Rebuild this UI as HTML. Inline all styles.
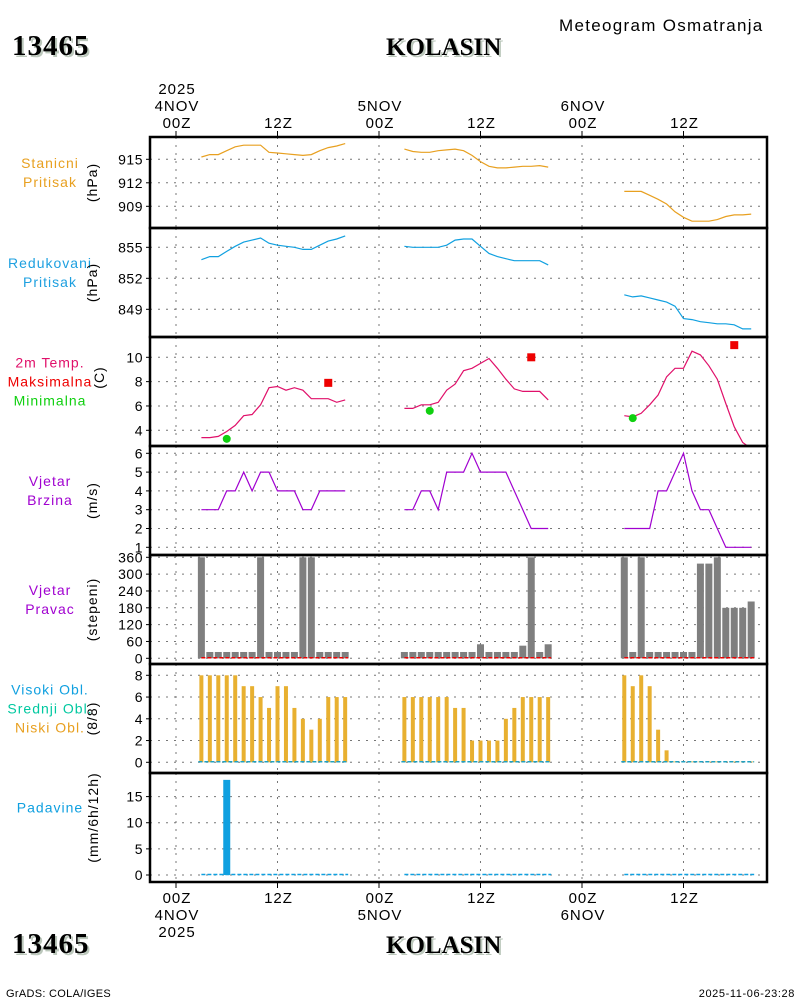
<!DOCTYPE html>
<html><head><meta charset="utf-8"><style>
html,body{margin:0;padding:0;background:#fff;}
svg{display:block;font-family:"Liberation Sans",sans-serif;}
</style></head><body>
<svg id="chart" width="800" height="1000" viewBox="0 0 800 1000">
<g>
<text x="559" y="31" font-size="17" letter-spacing="1.3">Meteogram Osmatranja</text>
<text x="14" y="57" font-size="29" font-weight="bold" font-family="Liberation Serif,serif" fill="#bcc8bc" letter-spacing="1">13465</text>
<text x="12" y="55" font-size="29" font-weight="bold" font-family="Liberation Serif,serif" letter-spacing="1">13465</text>
<text x="388" y="57" font-size="25" font-weight="bold" font-family="Liberation Serif,serif" fill="#bcc8bc">KOLASIN</text>
<text x="386" y="55" font-size="25" font-weight="bold" font-family="Liberation Serif,serif">KOLASIN</text>
<text x="14" y="955" font-size="29" font-weight="bold" font-family="Liberation Serif,serif" fill="#bcc8bc" letter-spacing="1">13465</text>
<text x="12" y="953" font-size="29" font-weight="bold" font-family="Liberation Serif,serif" letter-spacing="1">13465</text>
<text x="388" y="955" font-size="25" font-weight="bold" font-family="Liberation Serif,serif" fill="#bcc8bc">KOLASIN</text>
<text x="386" y="953" font-size="25" font-weight="bold" font-family="Liberation Serif,serif">KOLASIN</text>
<text x="6" y="997" font-size="11" letter-spacing="0.3">GrADS: COLA/IGES</text>
<text x="795" y="997" font-size="11" letter-spacing="0.6" text-anchor="end">2025-11-06-23:28</text>
</g>
</svg>
<script>
// ---- data (hours since 4NOV 00Z) ----
const seg1Hours=[3,4,5,6,7,8,9,10,11,12,13,14,15,16,17,18,19,20];
const seg2Hours=[27,28,29,30,31,32,33,34,35,36,37,38,39,40,41,42,43,44];
const seg3Hours=[53,54,55,56,57,58,59,60,61,62,63,64,65,66,67,68];
const timeTickHours=[0,12,24,36,48,60];
const timeTickLabels=["00Z","12Z","00Z","12Z","00Z","12Z"];
const dateLabels=[["2025","4NOV"],[],["5NOV"],[],["6NOV"],[]];

const stnP1=[915.3,915.6,915.6,916.1,916.6,916.8,916.8,916.8,915.9,915.8,915.7,915.6,915.5,915.6,916.1,916.5,916.7,917.0];
const stnP2=[916.3,916.0,915.9,915.9,916.1,916.2,916.3,916.1,915.5,914.7,914.1,913.9,913.9,914.0,914.1,914.1,914.2,914.0];
const stnP3=[910.9,910.9,910.9,910.4,909.9,909.3,908.3,907.6,907.1,907.1,907.1,907.3,907.7,907.9,907.9,908.0];
const redP1=[853.8,854.1,854.1,854.6,855.1,855.5,855.7,855.9,855.4,855.2,855.1,855.0,854.8,854.8,855.2,855.6,855.8,856.1];
const redP2=[855.1,855.0,855.0,855.0,855.0,855.2,855.7,855.8,855.8,855.1,854.4,854.1,853.9,853.7,853.7,853.7,853.7,853.3];
const redP3=[850.4,850.2,850.3,850.1,849.9,849.7,849.3,848.1,848.0,847.8,847.7,847.6,847.6,847.5,847.1,847.1];
const temp1=[3.4,3.4,3.5,3.9,4.4,5.2,5.3,6.1,7.5,7.6,7.3,7.5,7.3,6.6,6.6,6.6,6.3,6.5];
const temp2=[5.8,5.8,6.1,6.1,6.3,7.3,7.8,8.9,9.1,9.5,9.9,9.1,8.2,7.4,7.2,7.2,7.2,6.5];
const temp3=[5.2,5.1,5.4,6.1,6.9,8.4,9.1,9.1,10.5,10.2,9.3,8.2,6.2,4.3,3.0,2.5];
const tmaxHours=[18,42,66];
const tmaxValues=[7.9,10.0,11.0];
const tminHours=[6,30,54];
const tminValues=[3.3,5.6,5.0];
const wind1=[3,3,3,4,4,5,4,5,5,4,4,4,3,3,4,4,4,4];
const wind2=[3,3,4,4,3,5,5,5,6,5,5,5,5,4,3,2,2,2];
const wind3=[2,2,2,2,4,4,5,6,4,3,3,2,1,1,1,1];
const dir1=[360,22.5,22.5,22.5,22.5,22.5,22.5,360,22.5,22.5,22.5,22.5,360,360,22.5,22.5,22.5,22.5];
const dir2=[22.5,22.5,22.5,22.5,22.5,22.5,22.5,22.5,22.5,50,22.5,22.5,22.5,22.5,45,360,22.5,50];
const dir3=[360,22.5,360,22.5,22.5,22.5,22.5,22.5,22.5,337.5,337.5,360,180,180,180,202.5];
const cloud1=[8,8,8,8,8,7,7,6,5,7,7,5,4,3,4,6,6,6];
const cloud2=[6,6,6,6,6,6,5,5,2,2,2,2,4,5,6,6,6,6];
const cloud3=[8,7,8,7,3,1.1,0,0,0,0,0,0,0,0,0,0];
const precipHours=[6];
const precipValues=[18.2];

// ---- layout ----
const NS="http://www.w3.org/2000/svg";
const svg=document.getElementById('chart');
const X0=150,X1=767;
const xs=h=>176+h*8.4583;
function mk(tag,attrs,parent){const e=document.createElementNS(NS,tag);for(const k in attrs)e.setAttribute(k,attrs[k]);(parent||svg).appendChild(e);return e;}
function lin(v0,y0,v1,y1){return v=>y0+(v-v0)*(y1-y0)/(v1-v0);}

const panels=[
 {top:137,bot:228,ys:lin(915,159.3,909,206.3),ticks:[915,912,909],labels:[["Stanicni","#e8a020"],["Pritisak","#e8a020"]],unit:"(hPa)"},
 {top:228,bot:337,ys:lin(855,247.3,849,309.3),ticks:[855,852,849],labels:[["Redukovani","#1ea0e0"],["Pritisak","#1ea0e0"]],unit:"(hPa)"},
 {top:337,bot:446,ys:lin(10,357.3,4,430.3),ticks:[10,8,6,4],labels:[["2m Temp.","#e0106a"],["Maksimalna","#ee0000"],["Minimalna","#10d010"]],unit:"(C)"},
 {top:446,bot:555,ys:lin(6,453.3,1,547.3),ticks:[6,5,4,3,2,1],labels:[["Vjetar","#a000d0"],["Brzina","#a000d0"]],unit:"(m/s)"},
 {top:555,bot:664,ys:lin(360,557.3,0,658.3),ticks:[360,300,240,180,120,60,0],labels:[["Vjetar","#a000d0"],["Pravac","#a000d0"]],unit:"(stepeni)"},
 {top:664,bot:773,ys:lin(8,675.3,0,762.3),ticks:[8,6,4,2,0],labels:[["Visoki Obl.","#10a0e0"],["Srednji Obl.","#00c8a0"],["Niski Obl.","#e8a020"]],unit:"(8/8)"},
 {top:773,bot:882,ys:lin(15,796.6,0,875),ticks:[15,10,5,0],labels:[["Padavine","#10a0e0"]],unit:"(mm/6h/12h)"}
];
const names=["station-pressure","reduced-pressure","temperature","wind-speed","wind-direction","cloud-cover","precipitation"];

panels.forEach((p,i)=>{
 const g=mk('g',{});
 
 
 const cp=mk('clipPath',{id:'cp'+i},g);mk('rect',{x:X0,y:p.top,width:X1-X0,height:p.bot-p.top},cp);
 p.g=g;
 timeTickHours.forEach(h=>{const l=mk('line',{x1:xs(h),x2:xs(h),y1:p.top,y2:p.bot,stroke:'#777','stroke-dasharray':'2 6'},g);
  });
 p.ticks.forEach(t=>{const y=p.ys(t);
  const l=mk('line',{x1:X0,x2:X1,y1:y,y2:y,stroke:'#777','stroke-dasharray':'2 6'},g);
  
  mk('line',{x1:146,x2:X0,y1:y,y2:y,stroke:'#000'},g);
  const tx=mk('text',{x:143,y:y+5,'font-size':14,'letter-spacing':0.5,'text-anchor':'end'},g);tx.textContent=t;
  });
 const n=p.labels.length,mid=(p.top+p.bot)/2-((i===6)?20:10);
 p.labels.forEach((lb,k)=>{const tx=mk('text',{x:50,y:mid+(k-(n-1)/2)*19+5,'font-size':14,'letter-spacing':1,'text-anchor':'middle',fill:lb[1]},g);tx.textContent=lb[0];
  });
 const ux=i===6?98:(i===2?104:97);
 const uy=(p.top+p.bot)/2-(i===6?10:(i===2?14:0));
 const ut=mk('text',{x:ux,y:uy,'font-size':14,'letter-spacing':1,'text-anchor':'middle',transform:`rotate(-90 ${ux} ${uy})`},g);
 ut.textContent=p.unit;
});

function line(p,i,hours,vals,color,name){
 const pts=hours.slice(0,vals.length).map((h,k)=>xs(h).toFixed(1)+','+p.ys(vals[k]).toFixed(1)).join(' ');
 const pl=mk('polyline',{points:pts,fill:'none',stroke:color,'stroke-width':1.2,'clip-path':`url(#cp${i})`},p.g);
 
}
const P=panels;
line(P[0],0,seg1Hours,stnP1,'#e8a020','station-pressure-line');
line(P[0],0,seg2Hours,stnP2,'#e8a020','station-pressure-line');
line(P[0],0,seg3Hours,stnP3,'#e8a020','station-pressure-line');
line(P[1],1,seg1Hours,redP1,'#10a0e0','reduced-pressure-line');
line(P[1],1,seg2Hours,redP2,'#10a0e0','reduced-pressure-line');
line(P[1],1,seg3Hours,redP3,'#10a0e0','reduced-pressure-line');
line(P[2],2,seg1Hours,temp1,'#e0106a','temperature-line');
line(P[2],2,seg2Hours,temp2,'#e0106a','temperature-line');
line(P[2],2,seg3Hours,temp3,'#e0106a','temperature-line');
tmaxHours.forEach((h,k)=>{const r=mk('rect',{x:xs(h)-4,y:P[2].ys(tmaxValues[k])-4,width:8,height:8,fill:'#ee0000'},P[2].g);
 });
tminHours.forEach((h,k)=>{const c=mk('circle',{cx:xs(h),cy:P[2].ys(tminValues[k]),r:4,fill:'#10d010'},P[2].g);
 });
line(P[3],3,seg1Hours,wind1,'#a000d0','wind-speed-line');
line(P[3],3,seg2Hours,wind2,'#a000d0','wind-speed-line');
line(P[3],3,seg3Hours,wind3,'#a000d0','wind-speed-line');

function bars(p,i,hours,vals,color,w,name){
 vals.forEach((v,k)=>{const y0=p.ys(0),y=p.ys(v);
  const r=mk('rect',{x:xs(hours[k])-w/2,y:Math.min(y,y0-0.8),width:w,height:Math.max(y0-y,0.8),fill:color,'clip-path':`url(#cp${i})`},p.g);
  });
}
function zeroDash(p,hours,color,name){
 const y=p.ys(0)-0.5;
 const l=mk('line',{x1:xs(hours[0])-(name.startsWith('cloud')?3:0),x2:xs(hours[hours.length-1])+3,y1:y,y2:y,stroke:color,'stroke-width':1.5,'stroke-dasharray':'4 2'},p.g);
 
}
[[seg1Hours,dir1],[seg2Hours,dir2],[seg3Hours,dir3]].forEach(([h,v])=>{bars(P[4],4,h,v,'#7f7f7f',7,'wind-direction-bar');zeroDash(P[4],h,'#ee0000','wind-direction-baseline');});
[[seg1Hours,cloud1],[seg2Hours,cloud2],[seg3Hours,cloud3]].forEach(([h,v])=>{bars(P[5],5,h,v,'#e8b030',4,'low-cloud-bar');zeroDash(P[5],h,'#20a0c0','cloud-baseline');});
[seg1Hours,seg2Hours,seg3Hours].forEach(h=>zeroDash(P[6],h,'#10a0e0','precip-baseline'));
precipHours.forEach((h,k)=>{const y0=P[6].ys(0),y=P[6].ys(precipValues[k]);
 const r=mk('rect',{x:xs(h)-3.5,y:y,width:7,height:y0-y,fill:'#10a0e0'},P[6].g);
 });

panels.forEach(p=>{const r=mk('rect',{x:X0,y:p.top,width:X1-X0,height:p.bot-p.top,fill:'none',stroke:'#000','stroke-width':2.5});
 });

const LH=17;
timeTickHours.forEach((h,k)=>{const x=xs(h);
 mk('line',{x1:x,x2:x,y1:131,y2:137,stroke:'#000'});
 mk('line',{x1:x,x2:x,y1:882,y2:888,stroke:'#000'});
 const t=mk('text',{x:x+1,y:128,'font-size':15,'letter-spacing':1,'text-anchor':'middle'});t.textContent=timeTickLabels[k];
 
 const b=mk('text',{x:x+1,y:903,'font-size':15,'letter-spacing':1,'text-anchor':'middle'});b.textContent=timeTickLabels[k];
 
 const d=dateLabels[k];
 d.forEach((s,j)=>{const tt=mk('text',{x:x+1,y:128-LH*(d.length-j),'font-size':15,'letter-spacing':1,'text-anchor':'middle'});tt.textContent=s;
  });
 d.slice().reverse().forEach((s,j)=>{const tt=mk('text',{x:x+1,y:903+LH*(j+1),'font-size':15,'letter-spacing':1,'text-anchor':'middle'});tt.textContent=s;
  });
});
</script>
</body></html>
